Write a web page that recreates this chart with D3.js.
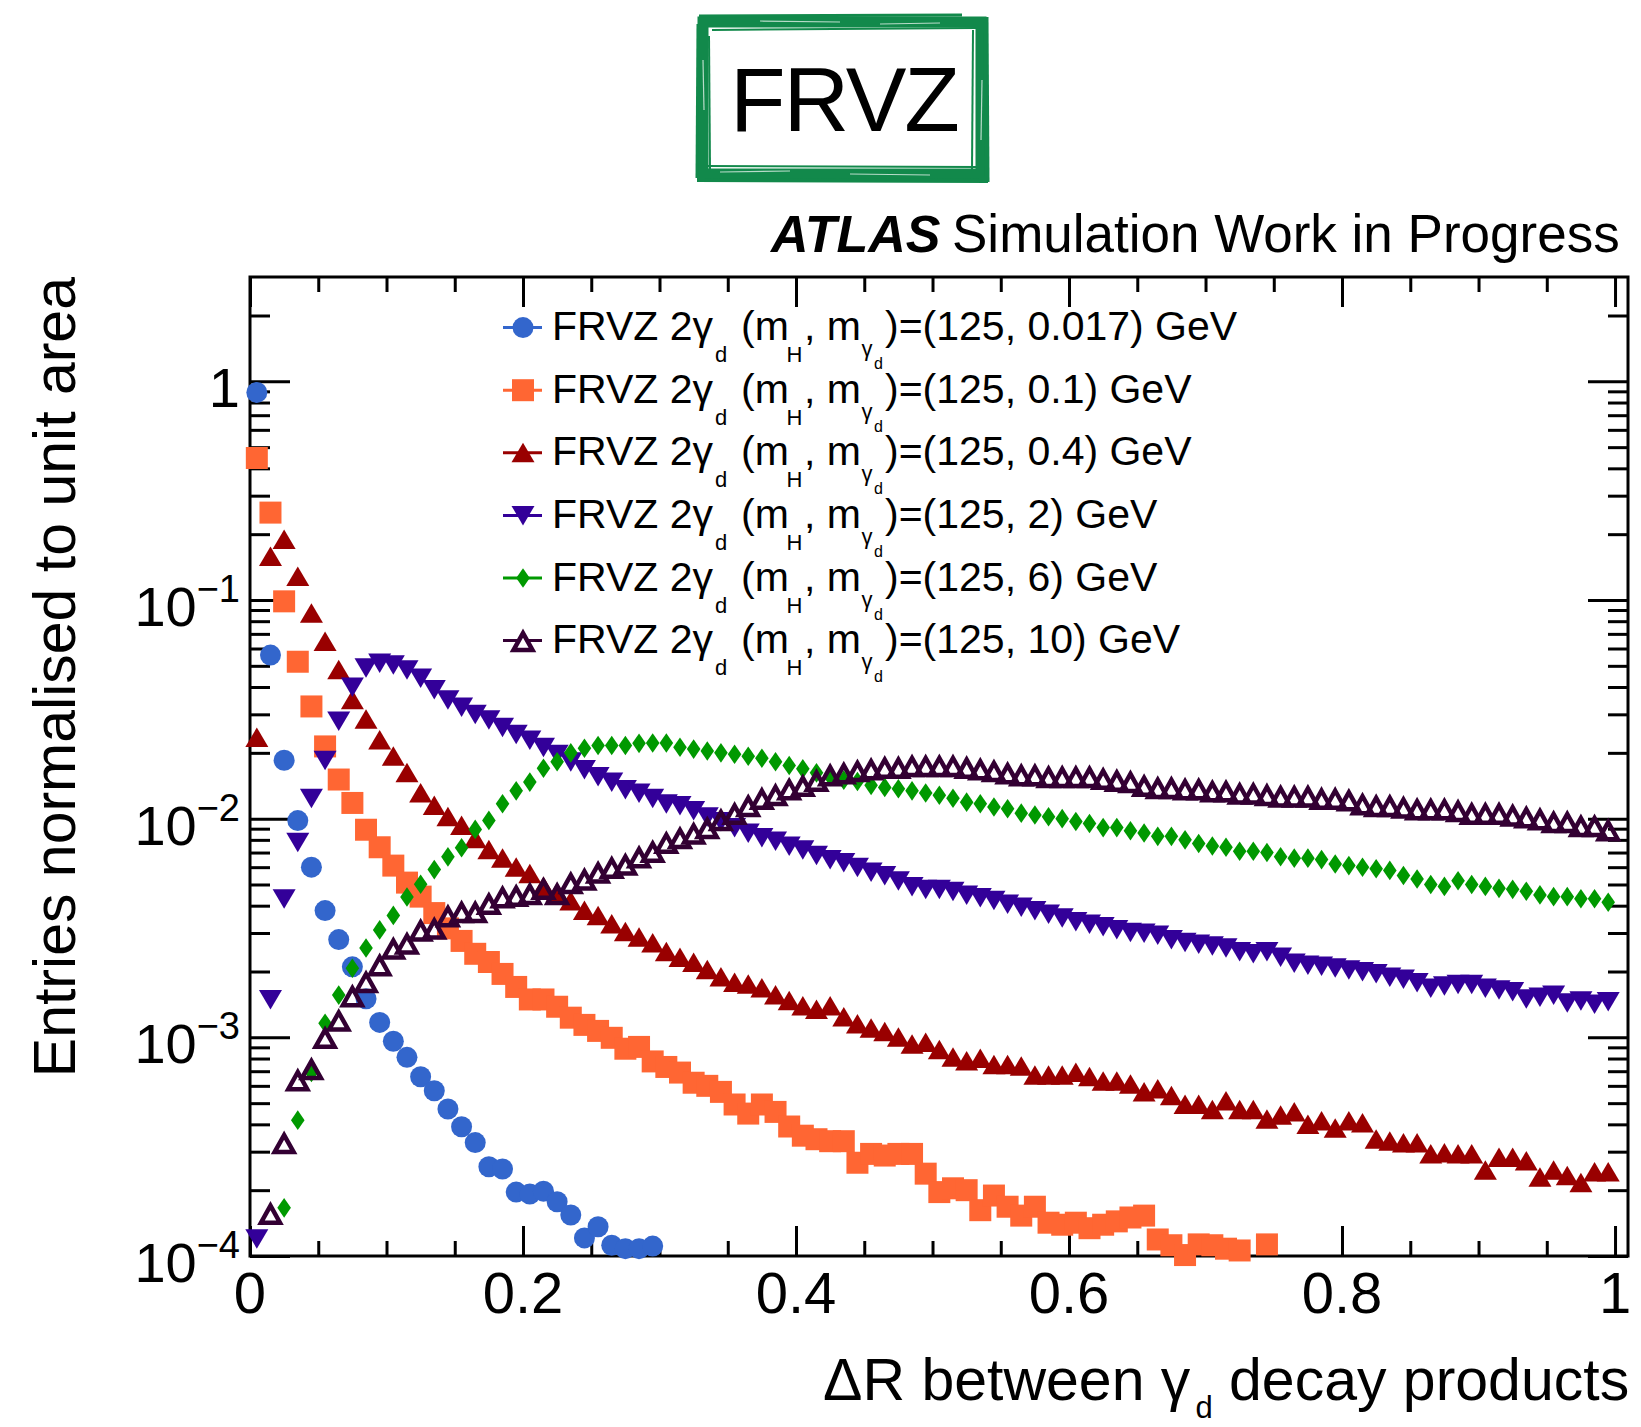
<!DOCTYPE html>
<html>
<head>
<meta charset="utf-8">
<script src="https://cdn.jsdelivr.net/npm/d3@7"></script>
<style>
  body { margin: 0; background: #fff; }
  svg text { font-family: "Liberation Sans", Arial, Helvetica, sans-serif; fill: #000; }
</style>
</head>
<body>
<div id="chart"></div>
<script>
const WIDTH = 1641;
const HEIGHT = 1427;
const FRAME = {left: 250, right: 1628, top: 277, bottom: 1256};

// histogram binning: 100 bins of width 0.01 in dR
const dRBinCenters = d3.range(100).map(i => 0.005 + 0.01 * i);

// entries normalised to unit area, one value per bin (null = below the y range)
const frvz0p017 = [0.89, 0.056, 0.0185, 0.0098, 0.006, 0.0038, 0.0028, 0.0021, 0.0015, 0.00117,
  0.00096, 0.00081, 0.00066, 0.00057, 0.00047, 0.00039, 0.00033, 0.000256, 0.00025, 0.000196,
  0.000192, 0.000198, 0.000177, 0.000154, 0.000121, 0.000136, 0.000112, 0.000108, 0.000108, 0.000111];

const frvz0p1 = [0.446, 0.251, 0.0986, 0.0522, 0.0326, 0.0214, 0.0151, 0.0118, 0.0089, 0.0074,
  0.0061, 0.0051, 0.0044, 0.0037, 0.00315, 0.00276, 0.00241, 0.00221, 0.00195, 0.0017,
  0.00149, 0.00149, 0.00138, 0.00123, 0.00114, 0.00107, 0.000995, 0.000887, 0.000904, 0.000776,
  0.000732, 0.00069, 0.00062, 0.0006, 0.000563, 0.000493, 0.000448, 0.000493, 0.000456, 0.000391,
  0.000355, 0.000342, 0.000335, 0.000335, 0.000267, 0.000293, 0.000288, 0.000293, 0.000293, 0.000238,
  0.000196, 0.000204, 0.0002, 0.000162, 0.000189, 0.000168, 0.000153, 0.000168, 0.000142, 0.000139,
  0.000142, 0.000134, 0.000139, 0.000144, 0.00015, 0.000153, 0.000119, 0.000112, 0.000101, 0.000113,
  0.000112, 0.000108, 0.000106, null, 0.000113];

const frvz0p4 = [0.0235, 0.158, 0.189, 0.128, 0.087, 0.0646, 0.048, 0.035, 0.0285, 0.0229,
  0.0193, 0.0162, 0.0131, 0.0115, 0.0102, 0.0093, 0.0081, 0.0072, 0.0066, 0.006,
  0.0056, 0.0049, 0.0046, 0.0042, 0.0038, 0.0036, 0.0033, 0.00304, 0.00287, 0.0027,
  0.00246, 0.00232, 0.0022, 0.00204, 0.00189, 0.00178, 0.00175, 0.00168, 0.00156, 0.00147,
  0.00139, 0.00134, 0.00139, 0.00124, 0.00115, 0.0011, 0.00106, 0.001, 0.00093, 0.000946,
  0.000877, 0.000811, 0.00078, 0.0008, 0.00075, 0.00075, 0.000738, 0.00067, 0.00067, 0.00067,
  0.00069, 0.00066, 0.00063, 0.00063, 0.00061, 0.000563, 0.00058, 0.00054, 0.000493, 0.000493,
  0.000466, 0.000512, 0.000466, 0.000466, 0.000422, 0.00044, 0.000456, 0.000399, 0.000414, 0.000384,
  0.000414, 0.000406, 0.000342, 0.000335, 0.000329, 0.000329, 0.000293, 0.000296, 0.000293, 0.000293,
  0.000247, 0.000282, 0.000282, 0.000272, 0.000229, 0.000247, 0.000233, 0.000216, 0.000242, 0.000242];

const frvz2 = [0.00012, 0.00149, 0.0043, 0.0078, 0.0124, 0.0185, 0.028, 0.040, 0.049, 0.0515,
  0.0506, 0.048, 0.044, 0.039, 0.035, 0.0324, 0.030, 0.0283, 0.0262, 0.0243,
  0.0229, 0.0212, 0.0197, 0.0182, 0.0168, 0.0156, 0.0147, 0.0136, 0.0131, 0.0124,
  0.0117, 0.0115, 0.0109, 0.0102, 0.0097, 0.0091, 0.0086, 0.0082, 0.0079, 0.0075,
  0.0072, 0.0068, 0.0065, 0.0063, 0.0060, 0.0057, 0.0055, 0.0052, 0.0049, 0.00475,
  0.00475, 0.00466, 0.00448, 0.00436, 0.00423, 0.00407, 0.00395, 0.0038, 0.00366, 0.00352,
  0.00339, 0.0033, 0.00321, 0.00311, 0.00302, 0.0030, 0.00294, 0.0028, 0.00272, 0.00267,
  0.00262, 0.00257, 0.00247, 0.00242, 0.00247, 0.00233, 0.00219, 0.00214, 0.00212, 0.00208,
  0.00204, 0.0020, 0.00196, 0.00189, 0.00185, 0.00178, 0.00168, 0.00172, 0.00175, 0.00175,
  0.00168, 0.00165, 0.00162, 0.0015, 0.00153, 0.00156, 0.00144, 0.00147, 0.00142, 0.00146];

const frvz6 = [null, null, 0.000166, 0.000418, 0.00069, 0.00116, 0.00156, 0.00207, 0.00256, 0.0031,
  0.00361, 0.00438, 0.00501, 0.00585, 0.00669, 0.00736, 0.00893, 0.00982, 0.0117, 0.0134,
  0.0147, 0.017, 0.0182, 0.020, 0.021, 0.0216, 0.0216, 0.0216, 0.0221, 0.0222,
  0.0222, 0.0212, 0.0208, 0.0204, 0.0200, 0.0197, 0.0193, 0.0189, 0.0182, 0.0175,
  0.0169, 0.0162, 0.0156, 0.0150, 0.0148, 0.0142, 0.0139, 0.0137, 0.0134, 0.0131,
  0.0128, 0.0124, 0.0119, 0.0117, 0.0113, 0.0111, 0.0106, 0.0104, 0.0102, 0.0100,
  0.0097, 0.0095, 0.0091, 0.0091, 0.0088, 0.0086, 0.0083, 0.0083, 0.0080, 0.0077,
  0.0075, 0.0074, 0.0071, 0.0071, 0.0070, 0.0067, 0.0066, 0.0066, 0.0065, 0.0062,
  0.0061, 0.0060, 0.0059, 0.0058, 0.0055, 0.0053, 0.0050, 0.0049, 0.0052, 0.0050,
  0.0049, 0.0048, 0.00475, 0.00466, 0.00448, 0.0044, 0.0044, 0.0043, 0.0043, 0.00415];

const frvz10 = [null, 0.000157, 0.00033, 0.00064, 0.00072, 0.001, 0.0012, 0.00155, 0.0018, 0.00215,
  0.00256, 0.0027, 0.0031, 0.00316, 0.0036, 0.00376, 0.00376, 0.0041, 0.0044, 0.00446,
  0.00455, 0.0048, 0.00455, 0.0051, 0.0053, 0.0057, 0.006, 0.0062, 0.0067, 0.0071,
  0.0078, 0.0082, 0.0086, 0.0091, 0.0099, 0.0106, 0.0115, 0.0124, 0.0129, 0.0137,
  0.0142, 0.0150, 0.0159, 0.0162, 0.0166, 0.0169, 0.0172, 0.0172, 0.0175, 0.0175,
  0.0175, 0.0175, 0.0172, 0.0169, 0.0166, 0.0162, 0.0159, 0.0159, 0.0156, 0.0156,
  0.0156, 0.0156, 0.0153, 0.0150, 0.0148, 0.0142, 0.0139, 0.0139, 0.0137, 0.0137,
  0.0134, 0.0134, 0.0131, 0.0131, 0.0129, 0.0127, 0.0127, 0.0127, 0.0124, 0.0124,
  0.0122, 0.0117, 0.0115, 0.0115, 0.0113, 0.0111, 0.0111, 0.0111, 0.0109, 0.0106,
  0.0106, 0.0106, 0.0104, 0.0102, 0.0100, 0.0097, 0.0097, 0.0093, 0.0093, 0.0089];

const darkPhotonMasses = ["0.017", "0.1", "0.4", "2", "6", "10"];
const xTickValues = [0, 0.2, 0.4, 0.6, 0.8, 1];
const yDecades = [0, -1, -2, -3, -4];

// ROOT-like markers, centred on their bounding box
const MARKERS = {
  circle: {draw(ctx) { ctx.moveTo(10.5, 0); ctx.arc(0, 0, 10.5, 0, 2 * Math.PI); }},
  square: {draw(ctx) { ctx.rect(-11, -11, 22, 22); }},
  triUp: {draw(ctx) { ctx.moveTo(0, -10); ctx.lineTo(11.5, 9.5); ctx.lineTo(-11.5, 9.5); ctx.closePath(); }},
  triDown: {draw(ctx) { ctx.moveTo(0, 10); ctx.lineTo(11.5, -9.5); ctx.lineTo(-11.5, -9.5); ctx.closePath(); }},
  diamond: {draw(ctx) { ctx.moveTo(0, -9.8); ctx.lineTo(6.8, 0); ctx.lineTo(0, 9.8); ctx.lineTo(-6.8, 0); ctx.closePath(); }},
  openTri: {draw(ctx) { ctx.moveTo(0, -7.5); ctx.lineTo(9.5, 9.5); ctx.lineTo(-9.5, 9.5); ctx.closePath(); }}
};

const SERIES = [
  {values: frvz0p017, color: "#3366cc", marker: "circle", open: false},
  {values: frvz0p1, color: "#ff6633", marker: "square", open: false},
  {values: frvz0p4, color: "#990000", marker: "triUp", open: false},
  {values: frvz2, color: "#330099", marker: "triDown", open: false},
  {values: frvz6, color: "#009900", marker: "diamond", open: false},
  {values: frvz10, color: "#330033", marker: "openTri", open: true}
];

const svg = d3.select("#chart").append("svg")
  .attr("width", WIDTH)
  .attr("height", HEIGHT)
  .style("display", "block");

svg.append("rect").attr("width", WIDTH).attr("height", HEIGHT).attr("fill", "#fff");

const x = d3.scaleLinear().domain([0, 1.0095]).range([FRAME.left, FRAME.right]);
const y = d3.scaleLog().domain([1e-4, 3]).range([FRAME.bottom, FRAME.top]);

// ---- axes (ticks inside the frame, mirrored on top/right)
const xMinor = d3.range(21).map(i => i * 0.05).filter(v => !xTickValues.some(t => Math.abs(t - v) < 1e-9));
const yMajor = yDecades.map(e => Math.pow(10, e));
const yMinor = [];
yDecades.forEach(e => d3.range(2, 10).forEach(m => {
  const v = m * Math.pow(10, e);
  if (v < 3) yMinor.push(v);
}));

function styleAxis(g) {
  g.select(".domain").remove();
  g.selectAll(".tick line").attr("stroke", "#000").attr("stroke-width", 3);
  g.selectAll(".tick text").remove();
}

svg.append("g").attr("transform", `translate(0,${FRAME.bottom})`)
  .call(d3.axisBottom(x).tickValues(xTickValues).tickSize(-30)).call(styleAxis);
svg.append("g").attr("transform", `translate(0,${FRAME.bottom})`)
  .call(d3.axisBottom(x).tickValues(xMinor).tickSize(-15)).call(styleAxis);
svg.append("g").attr("transform", `translate(0,${FRAME.top})`)
  .call(d3.axisTop(x).tickValues(xTickValues).tickSize(-30)).call(styleAxis);
svg.append("g").attr("transform", `translate(0,${FRAME.top})`)
  .call(d3.axisTop(x).tickValues(xMinor).tickSize(-15)).call(styleAxis);

svg.append("g").attr("transform", `translate(${FRAME.left},0)`)
  .call(d3.axisLeft(y).tickValues(yMajor).tickSize(-40)).call(styleAxis);
svg.append("g").attr("transform", `translate(${FRAME.left},0)`)
  .call(d3.axisLeft(y).tickValues(yMinor).tickSize(-20)).call(styleAxis);
svg.append("g").attr("transform", `translate(${FRAME.right},0)`)
  .call(d3.axisRight(y).tickValues(yMajor).tickSize(-40)).call(styleAxis);
svg.append("g").attr("transform", `translate(${FRAME.right},0)`)
  .call(d3.axisRight(y).tickValues(yMinor).tickSize(-20)).call(styleAxis);

svg.append("rect")
  .attr("x", FRAME.left).attr("y", FRAME.top)
  .attr("width", FRAME.right - FRAME.left).attr("height", FRAME.bottom - FRAME.top)
  .attr("fill", "none").attr("stroke", "#000").attr("stroke-width", 3);

// tick labels
svg.selectAll(".xlabel").data(xTickValues).enter().append("text")
  .attr("class", "xlabel")
  .attr("x", d => x(d))
  .attr("y", 1313)
  .attr("text-anchor", "middle")
  .attr("font-size", 58)
  .text(d => d3.format("~g")(d));

yDecades.forEach(e => {
  const t = svg.append("text")
    .attr("x", 240)
    .attr("y", y(Math.pow(10, e)) + 26)
    .attr("text-anchor", "end")
    .attr("font-size", 56);
  if (e === 0) {
    t.text("1");
  } else {
    t.append("tspan").text("10");
    t.append("tspan").attr("font-size", 38).attr("dy", -24).text("\u2212" + (-e));
  }
});

// axis titles
svg.append("text")
  .attr("transform", `translate(75,${FRAME.top}) rotate(-90)`)
  .attr("text-anchor", "end")
  .attr("font-size", 59)
  .text("Entries normalised to unit area");

const xTitle = svg.append("text")
  .attr("x", 823).attr("y", 1400)
  .attr("font-size", 59);
xTitle.append("tspan").text("\u0394R between \u03b3");
xTitle.append("tspan").attr("font-size", 31).attr("dx", 5).attr("dy", 18).text("d");
xTitle.append("tspan").attr("dy", -18).text(" decay products");

// ---- data points
SERIES.forEach(s => {
  const pts = s.values
    .map((v, i) => ({x: dRBinCenters[i], v: v}))
    .filter(d => d.v !== null && d.v >= 1e-4);
  svg.append("g").selectAll("path").data(pts).enter().append("path")
    .attr("transform", d => `translate(${x(d.x)},${y(d.v)})`)
    .attr("d", d3.symbol().type(MARKERS[s.marker]))
    .attr("fill", s.open ? "none" : s.color)
    .attr("stroke", s.open ? s.color : "none")
    .attr("stroke-width", s.open ? 4.5 : 0)
    .attr("stroke-linejoin", "miter");
});

// ---- legend
const LEG_Y0 = 327.6, LEG_DY = 62.6;
SERIES.forEach((s, i) => {
  const ly = LEG_Y0 + i * LEG_DY;
  const g = svg.append("g");
  g.append("line")
    .attr("x1", 503).attr("x2", 542).attr("y1", ly).attr("y2", ly)
    .attr("stroke", s.color).attr("stroke-width", 3);
  g.append("path")
    .attr("transform", `translate(523,${ly})`)
    .attr("d", d3.symbol().type(MARKERS[s.marker]))
    .attr("fill", s.open ? "#fff" : s.color)
    .attr("stroke", s.open ? s.color : "none")
    .attr("stroke-width", s.open ? 4.5 : 0);

  const base = ly + 12.6;
  const t = g.append("text").attr("font-size", 41);
  t.append("tspan").attr("x", 552).attr("y", base).text("FRVZ 2\u03b3");
  t.append("tspan").attr("x", 715).attr("y", base + 22).attr("font-size", 22).text("d");
  t.append("tspan").attr("x", 741).attr("y", base).text("(m");
  t.append("tspan").attr("x", 786.5).attr("y", base + 22).attr("font-size", 22).text("H");
  t.append("tspan").attr("x", 804).attr("y", base).text(", m");
  t.append("tspan").attr("x", 861.5).attr("y", base + 16).attr("font-size", 22).text("\u03b3");
  t.append("tspan").attr("x", 874).attr("y", base + 29).attr("font-size", 16).text("d");
  t.append("tspan").attr("x", 885).attr("y", base).text(")=(125, " + darkPhotonMasses[i] + ") GeV");
});

// ---- ATLAS label
svg.append("text")
  .attr("x", 771).attr("y", 252)
  .attr("font-size", 52).attr("font-weight", "bold").attr("font-style", "italic")
  .text("ATLAS");
svg.append("text")
  .attr("x", 952).attr("y", 252)
  .attr("font-size", 53)
  .text("Simulation Work in Progress");

// ---- FRVZ badge with a rough green brush frame
const GREEN = "#12894b";
const logo = svg.append("g");
logo.append("rect")
  .attr("x", 703).attr("y", 22).attr("width", 278).attr("height", 152)
  .attr("fill", "none").attr("stroke", GREEN).attr("stroke-width", 11);
const brush = [
  [699, 16, 962, 15, 3], [712, 30, 976, 28, 2], [697, 180, 988, 181, 4], [706, 166, 980, 167, 2],
  [698, 24, 697, 178, 3], [709, 36, 710, 170, 2], [986, 17, 987, 182, 5], [973, 30, 972, 170, 2]
];
brush.forEach(b => logo.append("line")
  .attr("x1", b[0]).attr("y1", b[1]).attr("x2", b[2]).attr("y2", b[3])
  .attr("stroke", GREEN).attr("stroke-width", b[4]));
const streaks = [
  [760, 21, 840, 22], [880, 24, 940, 23], [720, 172, 790, 171], [850, 174, 930, 175],
  [703, 60, 704, 110], [982, 80, 981, 140]
];
streaks.forEach(b => logo.append("line")
  .attr("x1", b[0]).attr("y1", b[1]).attr("x2", b[2]).attr("y2", b[3])
  .attr("stroke", "#fff").attr("stroke-width", 1.2).attr("opacity", 0.7));
logo.append("text")
  .attr("x", 844).attr("y", 131)
  .attr("text-anchor", "middle")
  .attr("font-size", 91)
  .attr("letter-spacing", -2)
  .text("FRVZ");
</script>
</body>
</html>
